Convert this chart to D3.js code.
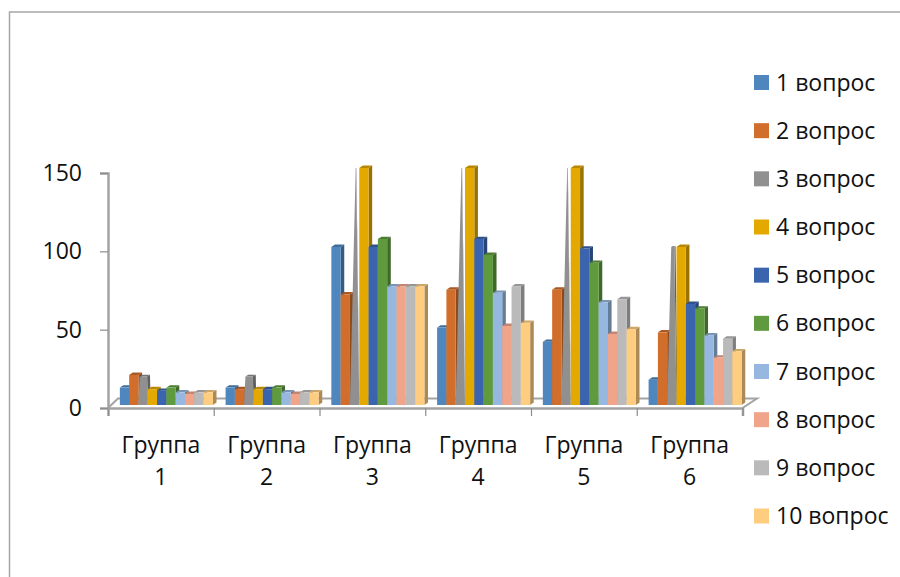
<!DOCTYPE html>
<html>
<head>
<meta charset="utf-8">
<script src="https://cdn.jsdelivr.net/npm/d3@7"></script>
<style>
  html, body { margin: 0; background: #fff; }
  svg { display: block; font-family: "Open Sans", sans-serif; fill: #111; }
</style>
</head>
<body>
<div id="chart"></div>
<script>
const groups = ["Группа 1", "Группа 2", "Группа 3", "Группа 4", "Группа 5", "Группа 6"];
const questions = ["1 вопрос", "2 вопрос", "3 вопрос", "4 вопрос", "5 вопрос",
  "6 вопрос", "7 вопрос", "8 вопрос", "9 вопрос", "10 вопрос"];
const colors = ["#4f86bd", "#d16e2b", "#909090", "#e3a900", "#3a65ae",
  "#5f9a3f", "#96b7e0", "#f0a58b", "#bababa", "#ffcd80"];
const yTicks = [0, 50, 100, 150];

const group1 = [11, 19, 18, 10, 9, 11, 8, 7, 8, 8];
const group2 = [11, 10, 18, 10, 10, 11, 8, 7, 8, 8];
const group3 = [100, 70, 150, 150, 100, 105, 75, 75, 75, 75];
const group4 = [49, 73, 150, 150, 105, 95, 71, 50, 75, 52];
const group5 = [40, 73, 150, 150, 99, 90, 65, 45, 67, 48];
const group6 = [16, 46, 100, 100, 64, 61, 44, 30, 42, 34];
const groupValues = [group1, group2, group3, group4, group5, group6];

const width = 900;
const height = 577;
const axisColor = "#a3a3a3";
const fontSize = "23px";
const depth = { x: 3.6, y: 2.4 };

const svg = d3.select("#chart").append("svg")
  .attr("width", width)
  .attr("height", height);

// outer frame, only top and left show in the picture
svg.append("path")
  .attr("d", d3.line()([[9.5, height], [9.5, 12], [width, 12]]))
  .attr("fill", "none")
  .attr("stroke", "#a6a6a6")
  .attr("stroke-width", 1.5);

const yAxisScale = d3.scaleLinear().domain([0, 150]).range([408, 173]);
const yBar = d3.scaleLinear().domain([0, 150]).range([405, 168]);
const xTicks = d3.scaleLinear().domain([0, 6]).range([108, 742.5]);
const x0 = d3.scaleBand().domain(groups).range([113.5, 748])
  .paddingInner(0.12).paddingOuter(0.06);
const x1 = d3.scaleBand().domain(questions).range([0, x0.bandwidth()]);

// question 3 is drawn as a narrowing column, the taller the thinner
const taper = d3.scaleLinear().domain([18, 150]).range([0.8, 0.05]);
const line = d3.line();

// floor of the 3d plot
const floorBack = { left: 118, right: 757, y: 398.5 };
svg.append("path")
  .attr("d", line([[xTicks(0), yAxisScale(0)], [floorBack.left, floorBack.y],
    [floorBack.right, floorBack.y], [xTicks(6), yAxisScale(0)]]))
  .attr("fill", "none")
  .attr("stroke", axisColor)
  .attr("stroke-width", 2);

const xAxis = svg.append("g")
  .attr("transform", `translate(0, ${yAxisScale(0)})`)
  .call(d3.axisBottom(xTicks).ticks(6).tickSize(8).tickFormat(""));
xAxis.select(".domain").attr("stroke", axisColor).attr("stroke-width", 2.5);
xAxis.selectAll(".tick line").attr("stroke", "#8c8c8c").attr("stroke-width", 1.2);

const yAxis = svg.append("g")
  .attr("transform", `translate(${xTicks(0)}, 0)`)
  .call(d3.axisLeft(yAxisScale).tickValues(yTicks).tickSize(8).tickPadding(18));
yAxis.select(".domain").attr("stroke", axisColor).attr("stroke-width", 2.5);
yAxis.selectAll(".tick line").attr("stroke", "#8c8c8c").attr("stroke-width", 1.2);
yAxis.selectAll("text")
  .attr("fill", "#111")
  .style("font-family", "'Open Sans', sans-serif")
  .style("font-size", fontSize);

const rows = groups.flatMap((g, i) =>
  questions.map((q, j) => ({ group: g, question: q, value: groupValues[i][j], color: colors[j] })));

const bars = svg.append("g")
  .selectAll("g")
  .data(rows)
  .join("g")
  .attr("transform", (d) => `translate(${x0(d.group) + x1(d.question)}, 0)`);

const barShape = (d) => {
  const w = x1.bandwidth();
  const t = d.question === "3 вопрос" ? taper(d.value) : 1;
  const inset = (w - w * t) / 2;
  const left = inset * 1.3;
  const right = w - inset * 0.7;
  const top = yBar(d.value);
  const base = yBar(0);
  return {
    front: [[0, base], [left, top], [right, top], [w, base]],
    side: [[w, base], [right, top], [right + depth.x * t, top - depth.y * t], [w + depth.x * t, base - depth.y]],
    cap: [[left, top], [left + depth.x * t, top - depth.y * t], [right + depth.x * t, top - depth.y * t], [right, top]],
  };
};

bars.append("path")
  .attr("d", (d) => line(barShape(d).side) + "Z")
  .attr("fill", (d) => d3.color(d.color).darker(1.1));
bars.append("path")
  .attr("d", (d) => line(barShape(d).cap) + "Z")
  .attr("fill", (d) => d3.color(d.color).darker(0.6));
bars.append("path")
  .attr("d", (d) => line(barShape(d).front) + "Z")
  .attr("fill", (d) => d.color);

// category labels wrap on two lines
const catLabels = svg.append("g")
  .selectAll("text")
  .data(groups)
  .join("text")
  .attr("x", (d, i) => (xTicks(i) + xTicks(i + 1)) / 2)
  .attr("text-anchor", "middle")
  .style("font-size", fontSize);
catLabels.append("tspan")
  .attr("y", 453)
  .text((d) => d.split(" ")[0]);
catLabels.append("tspan")
  .attr("x", (d, i) => (xTicks(i) + xTicks(i + 1)) / 2)
  .attr("y", 485)
  .text((d) => d.split(" ")[1]);

const legendY = d3.scalePoint().domain(questions).range([82.5, 516]);
const legend = svg.append("g")
  .selectAll("g")
  .data(questions)
  .join("g")
  .attr("transform", (d) => `translate(754, ${legendY(d)})`);
legend.append("rect")
  .attr("y", -7.5)
  .attr("width", 15)
  .attr("height", 15)
  .attr("fill", (d, i) => colors[i]);
legend.append("text")
  .attr("x", 22)
  .attr("y", 8)
  .style("font-size", fontSize)
  .text((d) => d);
</script>
</body>
</html>
